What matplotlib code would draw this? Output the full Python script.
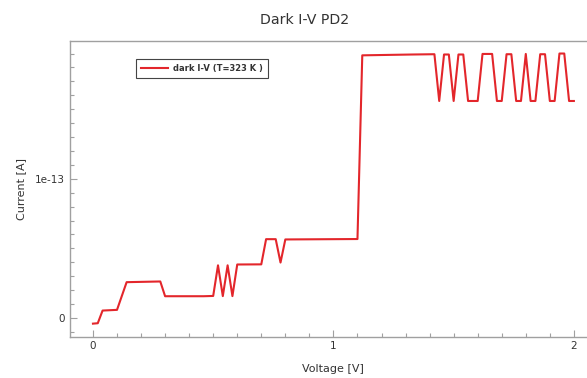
import matplotlib
matplotlib.use('Agg')
import matplotlib.pyplot as plt
from matplotlib.ticker import MultipleLocator, FixedLocator, FixedFormatter

# dark I-V sweep of PD2 at T=323 K (vertices of the measured curve)
voltage = [0.00, 0.02, 0.04, 0.10, 0.14, 0.28, 0.30, 0.46, 0.50, 0.52, 0.54,
           0.56, 0.58, 0.60, 0.70, 0.72, 0.76, 0.78, 0.80, 1.10, 1.12, 1.33,
           1.42, 1.44, 1.46, 1.48, 1.50, 1.52, 1.54, 1.56, 1.60, 1.62, 1.66,
           1.68, 1.70, 1.72, 1.74, 1.76, 1.78, 1.80, 1.82, 1.84, 1.86, 1.88,
           1.90, 1.92, 1.94, 1.96, 1.98, 2.00]
current = [-0.041, -0.038, 0.053, 0.058, 0.257, 0.262, 0.156, 0.156, 0.158,
           0.378, 0.157, 0.378, 0.157, 0.384, 0.385, 0.566, 0.566, 0.398,
           0.564, 0.567, 1.887, 1.893, 1.895, 1.559, 1.893, 1.893, 1.559,
           1.893, 1.893, 1.559, 1.559, 1.897, 1.897, 1.559, 1.559, 1.895,
           1.895, 1.559, 1.559, 1.897, 1.559, 1.559, 1.895, 1.895, 1.559,
           1.559, 1.900, 1.900, 1.559, 1.559]
current = [c * 1e-13 for c in current]

xticks = [0, 1, 2]
yticks = [0, 1e-13]
ytick_labels = ['0', '1e-13']

text_col = '#333333'
spine_col = '#a0a0a0'

plt.rcParams['font.family'] = 'DejaVu Sans'

fig = plt.figure(figsize=(5.87, 3.78), dpi=100)
ax = fig.add_axes([70 / 587, 41 / 378, 526 / 587, 296 / 378])

ax.plot(voltage, current, color='#e3262b', lw=1.5, label='dark I-V (T=323 K )')

ax.set_xlim(-0.0955, 2.092)
ax.set_ylim(-0.137e-13, 1.99e-13)

ax.xaxis.set_major_locator(FixedLocator(xticks))
ax.xaxis.set_minor_locator(MultipleLocator(0.1))
ax.yaxis.set_major_locator(FixedLocator(yticks))
ax.yaxis.set_major_formatter(FixedFormatter(ytick_labels))
ax.yaxis.set_minor_locator(MultipleLocator(0.1e-13))

ax.tick_params(which='both', direction='in', colors=spine_col,
               labelcolor=text_col, labelsize=7.5)
ax.tick_params(which='major', length=5, width=0.8, pad=4)
ax.tick_params(which='minor', length=3, width=0.8)
ax.tick_params(axis='x', which='major', pad=3)
for s in ax.spines.values():
    s.set_color(spine_col)
    s.set_linewidth(1.0)

ax.set_xlabel('Voltage [V]', fontsize=8, color=text_col, labelpad=9)
ax.set_ylabel('Current [A]', fontsize=8, color=text_col, labelpad=6)
fig.text(304.5 / 587, 1 - 20 / 378, 'Dark I-V PD2',
         ha='center', va='center', fontsize=10.2, color=text_col)

leg = ax.legend(loc='upper left', bbox_to_anchor=(66 / 526, 1 - 18 / 296),
                prop={'weight': 'bold', 'size': 6}, fancybox=False,
                framealpha=1, borderpad=0.6, handlelength=3.2,
                handletextpad=0.6, borderaxespad=0)
leg.get_frame().set_edgecolor('#444444')
leg.get_frame().set_linewidth(0.8)
for t in leg.get_texts():
    t.set_color(text_col)

fig.savefig('out.png', dpi=100)
